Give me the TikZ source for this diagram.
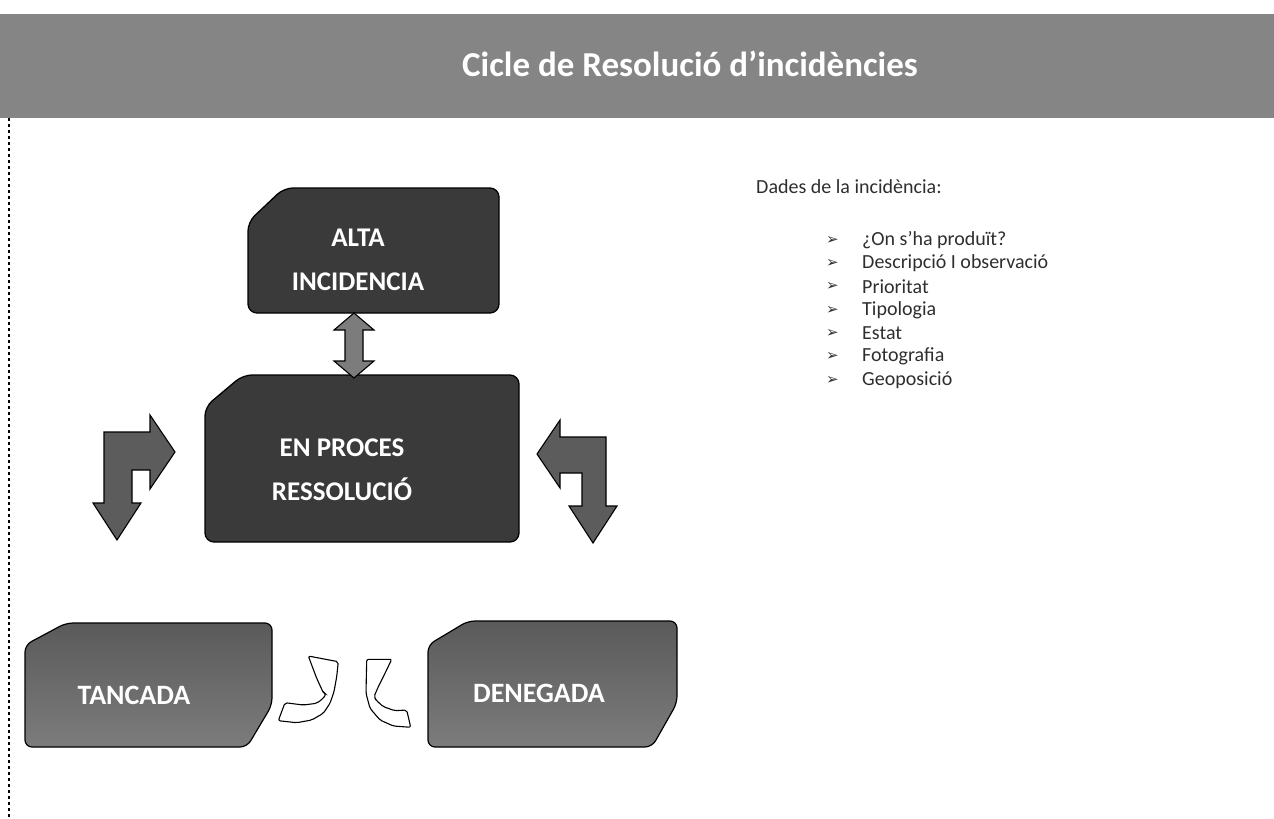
\documentclass[tikz,border=0pt]{standalone}
\usepackage{fontspec}
\setmainfont{Carlito}
\newfontfamily\symfont{DejaVu Sans}
\definecolor{headgray}{HTML}{858585}
\definecolor{boxdark}{HTML}{3A3A3A}
\definecolor{arrowgray}{HTML}{5C5C5C}
\definecolor{dblgray}{HTML}{7C7C7C}
\definecolor{boxtop}{HTML}{5A5A5A}
\definecolor{boxbot}{HTML}{7C7C7C}
\definecolor{txtgray}{HTML}{2E2E2E}
\begin{document}
\begin{tikzpicture}[x=1pt,y=-1pt,
  darkbox/.style={draw=black, line width=1.3pt, fill=boxdark, rounded corners=9pt},
  lowbox/.style={draw=black, line width=1.2pt, top color=boxtop, bottom color=boxbot, rounded corners=7pt},
  blockarrow/.style={draw=black, line width=1.1pt, fill=arrowgray},
  dblarrow/.style={draw=black, line width=1.1pt, fill=dblgray},
  curvearrow/.style={draw=black, line width=1.1pt, fill=white, rounded corners=2pt},
  boxtext/.style={text=white, align=center, font=\bfseries\fontsize{27}{44}\selectfont, inner sep=0pt},
  lowtext/.style={text=white, font=\bfseries\fontsize{28}{30}\selectfont, inner sep=0pt},
  titletext/.style={text=white, font=\bfseries\fontsize{35}{38}\selectfont, inner sep=0pt},
  listtext/.style={anchor=west, text=txtgray, font=\fontsize{20}{22}\selectfont, inner sep=0pt},
  bullet/.style={anchor=west, text=txtgray, font=\symfont\fontsize{15}{17}\selectfont, inner sep=0pt}]
\useasboundingbox (0,0) rectangle (1274,819);

% header band
\fill[headgray] (0,14) rectangle (1274,118);
\node[titletext] (title) at (690,64) {Cicle de Resolució d’incidències};

% left dashed border
\draw[black, line width=1.4pt, dashed] (9,118) -- (9,819);

% ALTA INCIDENCIA
\draw[darkbox] (248,222) -- (284,188) -- (499,188) -- (499,313) -- (248,313) -- cycle;
\node[boxtext] (alta) at (358,260) {ALTA\\INCIDENCIA};

% EN PROCES RESSOLUCIO
\draw[darkbox] (205,407) -- (243,375) -- (519,375) -- (519,542) -- (205,542) -- cycle;
\node[boxtext] (proces) at (342,470) {EN PROCES\\RESSOLUCIÓ};

% double arrow between alta and proces
\coordinate (altaS) at (354,313);
\coordinate (procN) at (354,378);
\draw[dblarrow] (altaS) -- ++(20,17) -- ++(-11,0) -- ++(0,31) -- ++(11,0) -- (procN)
  -- ++(-20,-17) -- ++(11,0) -- ++(0,-31) -- ++(-11,0) -- cycle;

% left bent arrow
\draw[blockarrow] (104,432) -- (150,432) -- (150,415) -- (175,452) -- (150,489) -- (150,470)
  -- (132,470) -- (132,503) -- (141,503) -- (117,540) -- (93,503) -- (104,503) -- cycle;

% right bent arrow
\draw[blockarrow] (606,437) -- (560,437) -- (560,420) -- (537,454) -- (560,488) -- (560,473)
  -- (582,473) -- (582,506) -- (569,506) -- (593,543) -- (617,506) -- (606,506) -- cycle;

% TANCADA
\draw[lowbox] (25,645) -- (66,623) -- (272,623) -- (272,705) -- (247,747) -- (25,747) -- cycle;
\node[lowtext] (tancada) at (134,695) {TANCADA};

% DENEGADA
\draw[lowbox] (428,645) -- (468,621) -- (677,621) -- (677,703) -- (652,747) -- (428,747) -- cycle;
\node[lowtext] (denegada) at (539,693) {DENEGADA};

% curved arrows
\draw[curvearrow] (308.3,656) -- (338.3,661.7) -- (336.7,676.7) -- (334,691.7) -- (330,703.3)
  -- (323.3,713.3) -- (311.7,720) -- (296.7,722.7) -- (278.3,720.7) -- (285,702.7)
  -- (303.3,705) -- (316.7,703.3) -- (323.3,698.3) -- (326,694) -- (323.3,692.7)
  -- (316.7,678.3) -- cycle;
\draw[curvearrow] (366.7,659.3) -- (391.7,659.3) -- (385,673.3) -- (378.3,686.7) -- (374,696.7)
  -- (376,700) -- (383.3,706.7) -- (395,710.7) -- (406.7,710) -- (410.7,727.3)
  -- (393.3,726) -- (380,720) -- (370,708.3) -- (366,693.3) -- cycle;

% data list
\node[listtext] (dades) at (756,187) {Dades de la incidència:};
\node[bullet] (b1) at (826,240) {➢};
\node[listtext] (i1) at (862,240) {¿On s’ha produït?};
\node[bullet] (b2) at (826,263.3) {➢};
\node[listtext] (i2) at (862,263.3) {Descripció I observació};
\node[bullet] (b3) at (826,286.7) {➢};
\node[listtext] (i3) at (862,286.7) {Prioritat};
\node[bullet] (b4) at (826,310) {➢};
\node[listtext] (i4) at (862,310) {Tipologia};
\node[bullet] (b5) at (826,333.3) {➢};
\node[listtext] (i5) at (862,333.3) {Estat};
\node[bullet] (b6) at (826,356.7) {➢};
\node[listtext] (i6) at (862,356.7) {Fotografia};
\node[bullet] (b7) at (826,380) {➢};
\node[listtext] (i7) at (862,380) {Geoposició};
\end{tikzpicture}
\end{document}
